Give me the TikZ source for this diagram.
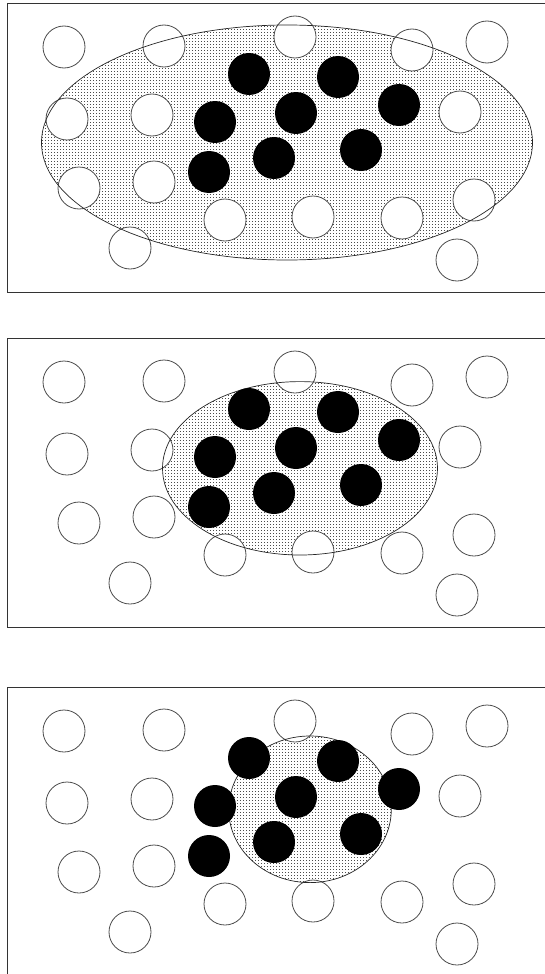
\documentclass[tikz,border=0pt]{standalone}
\usepackage{xcolor}
\usepackage{tikz}
\usetikzlibrary{patterns}

\pgfdeclarepatternformonly{finedots}{\pgfqpoint{-1pt}{-1pt}}{\pgfqpoint{1pt}{1pt}}{\pgfqpoint{3pt}{3pt}}{%
  \pgfpathrectangle{\pgfqpoint{-0.4pt}{-0.4pt}}{\pgfqpoint{0.8pt}{0.8pt}}%
  \pgfusepath{fill}}

\begin{document}
\begin{tikzpicture}[x=1pt, y=-1pt,
    frame/.style={draw=black!80, line width=0.9pt},
    region/.style={pattern=finedots, pattern color=black!70},
    outer/.style={draw=black!70, line width=0.8pt, fill=white},
    inner/.style={fill=black}]
  \def\r{21}
  \useasboundingbox (0,0) rectangle (544,974);
  % one panel per step: offset / ellipse centre / radii
  \foreach \off/\cx/\cy/\rx/\ry in {0/287/142.5/245.5/117.5,
                                    335/300/133.3/137.5/86.7,
                                    684/310/125.3/81.3/73.3}{
    \begin{scope}[yshift=-\off pt]
      \draw[frame] (547,3) -- (7.5,3) -- (7.5,292) -- (547,292);
      \fill[region] (\cx,\cy) ellipse [x radius=\rx, y radius=\ry];
      % open circles
      \foreach \x/\y in {64/47, 164/46, 295/37, 412/50, 487/42,
                         67/119, 152/115, 460/112,
                         79/188, 154/182, 225/220, 313/217, 402/218, 474/200,
                         130/248, 457/260}
        \draw[outer] (\x,\y) circle [radius=\r];
      \draw[black!85, line width=0.7pt] (\cx,\cy) ellipse [x radius=\rx, y radius=\ry];
      % filled circles
      \foreach \x/\y in {249/74, 338/77, 215/122, 296/113, 399/105,
                         209/172, 274/158, 361/150}
        \fill[inner] (\x,\y) circle [radius=\r];
    \end{scope}
  }
\end{tikzpicture}
\end{document}
